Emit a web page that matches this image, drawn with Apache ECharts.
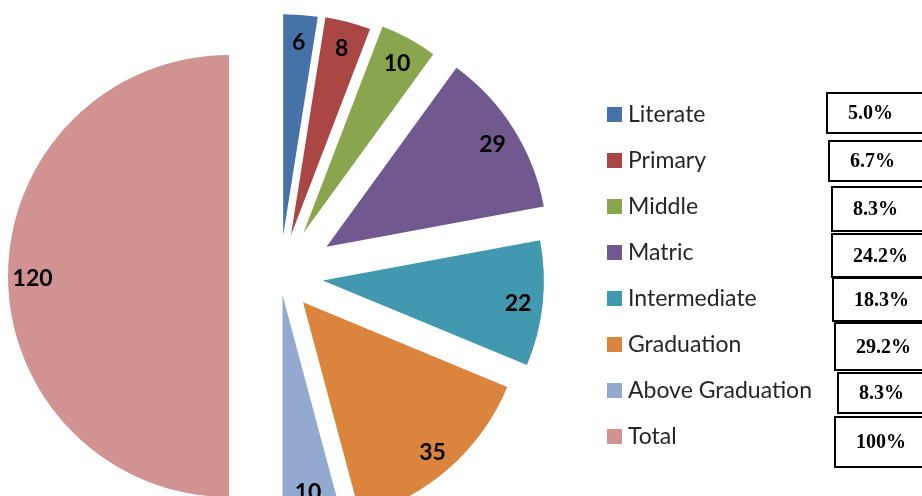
<!DOCTYPE html>
<html>
<head>
<meta charset="utf-8">
<script src="https://cdn.jsdelivr.net/npm/echarts@6/dist/echarts.min.js"></script>
<style>
  html, body { margin: 0; padding: 0; background: #fff; }
  #chart { width: 922px; height: 496px; }
</style>
</head>
<body>
<div id="chart"></div>
<script>
// data
var categories = ['Literate', 'Primary', 'Middle', 'Matric', 'Intermediate', 'Graduation', 'Above Graduation', 'Total'];
var values = [6, 8, 10, 29, 22, 35, 10, 120];
var shareLabels = ['5.0%', '6.7%', '8.3%', '24.2%', '18.3%', '29.2%', '8.3%', '100%'];

// styling
var colors = ['#4572A7', '#AA4643', '#89A54E', '#71588F', '#4198AF', '#DB843D', '#93A9CF', '#D19392'];
var explode = [41, 42, 49, 55, 43, 35, 19, 51];   // how far each slice is pulled out
var pieCenter = [280, 276];
var pieRadius = 221;
// percentage boxes: [left, top, height]
var boxes = [[827, 93, 40], [829, 141, 40], [832, 187, 44], [832, 234, 43],
             [833, 278, 43], [835, 323, 47], [838, 373, 40], [835, 417, 50]];

var myChart = echarts.init(document.getElementById('chart'));

var sum = values.reduce(function (a, b) { return a + b; }, 0);
var series = [];
var acc = 0;
categories.forEach(function (name, i) {
    // exploded center of slice i
    var mid = (acc + values[i] / 2) / sum * Math.PI * 2;
    acc += values[i];
    var c = [pieCenter[0] + explode[i] * Math.sin(mid), pieCenter[1] - explode[i] * Math.cos(mid)];

    var fillData = categories.map(function (n, j) {
        return { name: n, value: values[j], itemStyle: { color: j === i ? colors[j] : 'rgba(0,0,0,0)' } };
    });
    series.push({
        type: 'pie',
        silent: true,
        animation: false,
        center: c,
        radius: [0, pieRadius],
        startAngle: 90,
        clockwise: true,
        avoidLabelOverlap: false,
        itemStyle: { borderWidth: 0 },
        label: { show: false },
        labelLine: { show: false },
        data: fillData
    });

    // label ring so the number sits near the outer edge
    var labelData = categories.map(function (n, j) {
        return {
            name: n, value: values[j],
            itemStyle: { color: 'rgba(0,0,0,0)' },
            label: { show: j === i }
        };
    });
    series.push({
        type: 'pie',
        silent: true,
        animation: false,
        center: [c[0], c[1] + 3],
        radius: [pieRadius * 0.75, pieRadius],
        startAngle: 90,
        clockwise: true,
        avoidLabelOverlap: false,
        itemStyle: { borderWidth: 0 },
        label: {
            position: 'inside',
            formatter: '{c}',
            color: '#000',
            fontFamily: 'Lato',
            fontWeight: 'bold',
            fontSize: 23
        },
        labelLine: { show: false },
        data: labelData
    });
});

// percentage boxes on the right
var graphics = [];
shareLabels.forEach(function (t, i) {
    var b = boxes[i];
    graphics.push({
        type: 'rect',
        silent: true,
        shape: { x: b[0], y: b[1], width: 120, height: b[2] },
        style: { fill: '#fff', stroke: '#000', lineWidth: 2 }
    });
    graphics.push({
        type: 'text',
        silent: true,
        x: b[0] + 21,
        y: b[1] + b[2] / 2 + 1,
        style: {
            text: t,
            fill: '#000',
            font: 'bold 20px "Liberation Serif"',
            textAlign: 'left',
            textVerticalAlign: 'middle'
        }
    });
});

option = {
    backgroundColor: '#fff',
    legend: {
        orient: 'vertical',
        left: 607,
        top: 103,
        padding: 0,
        itemWidth: 15,
        itemHeight: 15,
        itemGap: 23,
        icon: 'rect',
        selectedMode: false,
        textStyle: { color: '#262626', fontFamily: 'Lato', fontSize: 23, lineHeight: 23, padding: [0, 0, 0, 1] },
        data: categories.map(function (n, i) {
            return { name: n, itemStyle: { color: colors[i] } };
        })
    },
    series: series,
    graphic: graphics
};
myChart.setOption(option);
</script>
</body>
</html>
